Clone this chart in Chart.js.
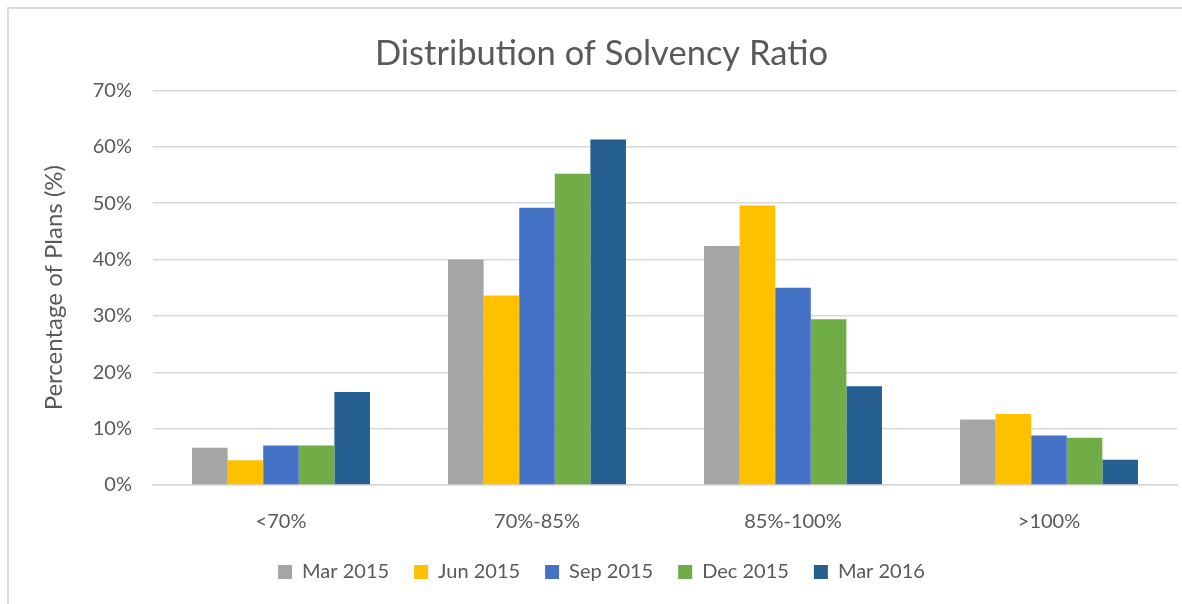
<!DOCTYPE html>
<html>
<head>
<meta charset="utf-8">
<script src="https://cdn.jsdelivr.net/npm/chart.js@4.4.0/dist/chart.umd.min.js"></script>
<style>
    body { margin: 0; background: #fff; }
    #frame { position: absolute; left: 7px; top: 7px; width: 1200px; height: 620px;
             border-top: 2px solid #dcdcdc; border-left: 2px solid #dcdcdc; }
    #wrap { position: absolute; left: 0; top: 0; width: 1182px; height: 604px; }
</style>
</head>
<body>
<div id="frame"></div>
<div id="wrap"><canvas id="chart"></canvas></div>
<script>
// bins of solvency ratio
const categories = ["<70%", "70%-85%", "85%-100%", ">100%"];
const periods = ["Mar 2015", "Jun 2015", "Sep 2015", "Dec 2015", "Mar 2016"];

// % of plans in each bin, per period
const mar2015 = [6.6, 40.0, 42.4, 11.6];
const jun2015 = [4.4, 33.6, 49.6, 12.6];
const sep2015 = [7.0, 49.2, 35.0, 8.8];
const dec2015 = [7.0, 55.2, 29.4, 8.4];
const mar2016 = [16.5, 61.3, 17.5, 4.5];

const yTicks = [0, 10, 20, 30, 40, 50, 60, 70];

const colors = ["#a5a5a5", "#ffc000", "#4472c4", "#70ad47", "#255e91"];
const series = [mar2015, jun2015, sep2015, dec2015, mar2016];

const textColor = "#595959";
Chart.defaults.font.family = "Lato, 'Open Sans', sans-serif";
Chart.defaults.color = textColor;

const ctx = document.getElementById("chart").getContext("2d");

new Chart(ctx, {
    type: "bar",
    data: {
        labels: categories,
        datasets: series.map((vals, i) => ({
            label: periods[i],
            data: vals,
            backgroundColor: colors[i],
            borderWidth: 0,
            categoryPercentage: 0.695,
            barPercentage: 1.0
        }))
    },
    options: {
        responsive: true,
        maintainAspectRatio: false,
        animation: false,
        layout: { padding: { left: 26, right: 5, top: 0, bottom: 12 } },
        plugins: {
            title: {
                display: true,
                text: "Distribution of Solvency Ratio",
                color: textColor,
                font: { size: 34.5, weight: "normal" },
                padding: { top: 33, bottom: 16 }
            },
            legend: {
                position: "bottom",
                labels: {
                    boxWidth: 14,
                    boxHeight: 14,
                    padding: 25,
                    color: textColor,
                    font: { size: 20 }
                }
            },
            tooltip: { enabled: false }
        },
        scales: {
            x: {
                grid: { display: false },
                border: { display: true, color: "#d9d9d9", width: 1.5 },
                ticks: { color: textColor, font: { size: 20 }, padding: 17 },
                afterFit: function (scale) { scale.height = 52; }
            },
            y: {
                min: 0,
                max: 70,
                afterBuildTicks: function (scale) {
                    scale.ticks = yTicks.map(v => ({ value: v }));
                },
                grid: { color: "#d9d9d9", lineWidth: 1.5, drawTicks: false },
                border: { display: false },
                ticks: {
                    color: textColor,
                    font: { size: 20 },
                    padding: 21,
                    callback: v => v + "%"
                },
                title: {
                    display: true,
                    text: "Percentage of Plans (%)",
                    color: textColor,
                    font: { size: 24, weight: "normal" },
                    padding: { top: 14, bottom: 0 }
                },
                afterFit: function (scale) { scale.width = 127; }
            }
        }
    }
});
</script>
</body>
</html>
